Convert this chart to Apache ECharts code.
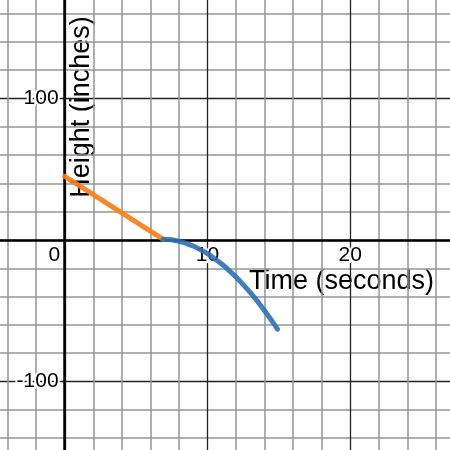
<!DOCTYPE html>
<html>
<head>
<meta charset="utf-8">
<script src="https://cdn.jsdelivr.net/npm/echarts@6/dist/echarts.min.js"></script>
<style>
  html, body { margin: 0; padding: 0; background: #fff; }
  #chart { width: 450px; height: 450px; }
</style>
</head>
<body>
<div id="chart"></div>
<script>
// values
var orangeT = [0, 6.9];
var orangeH = [45, 0.5];
var blueT = [6.9, 7.5, 8.0, 8.5, 9.0, 9.5, 10.0, 10.5, 11.0, 11.5, 12.0, 12.5, 13.0, 13.5, 14.0, 14.5, 14.9];
var blueH = [0.5, 0.2, -1, -2.3, -4.3, -6.8, -9.7, -13.2, -17, -21.4, -26.2, -31.5, -37.2, -43.3, -50, -57, -63];
var xTickLabels = ['0', '10', '20'];
var yTickLabels = ['-100', '100'];
var xTitle = 'Time (seconds)';
var yTitle = 'Height (inches)';

var FONT = 'Liberation Sans, Arial, sans-serif';

function pairs(xs, ys) {
  var out = [];
  for (var i = 0; i < xs.length; i++) {
    out.push([xs[i], ys[i]]);
  }
  return out;
}

var chart = echarts.init(document.getElementById('chart'));

var labelStyle = {
  color: '#000',
  fontSize: 21,
  fontFamily: FONT,
  textBorderColor: '#fff',
  textBorderWidth: 4
};
var majorLine = { show: true, lineStyle: { color: '#222', width: 1.3 } };
var minorLine = { show: true, lineStyle: { color: '#959595', width: 1.5 } };

var option = {
  animation: false,
  backgroundColor: '#fff',
  grid: { left: -78, right: -43, top: -43, bottom: -73, outerBoundsMode: 'none', containLabel: false },
  xAxis: {
    type: 'value',
    min: -10,
    max: 30,
    interval: 10,
    position: 'bottom',
    offset: -283,   // sits on y = 0
    axisLine: { show: true, onZero: false, lineStyle: { color: '#000', width: 2.5 } },
    axisTick: { show: false },
    axisLabel: Object.assign({
      margin: 5,
      formatter: function (v) {
        var s = String(v);
        if (xTickLabels.indexOf(s) < 0) return '';
        return s === '0' ? '{z|0}' : s;
      },
      rich: { z: { fontSize: 21, fontFamily: FONT, color: '#000', padding: [0, 21, 0, 0] } }
    }, labelStyle),
    splitLine: majorLine,
    minorTick: { show: false, splitNumber: 5 },
    minorSplitLine: minorLine
  },
  yAxis: {
    type: 'value',
    min: -200,
    max: 200,
    interval: 100,
    position: 'left',
    offset: -142.6, // sits on x = 0
    axisLine: { show: true, onZero: false, lineStyle: { color: '#000', width: 2.5 } },
    axisTick: { show: false },
    axisLabel: Object.assign({
      margin: 6,
      formatter: function (v) {
        var s = String(v);
        return yTickLabels.indexOf(s) < 0 ? '' : s;
      }
    }, labelStyle),
    splitLine: majorLine,
    minorTick: { show: false, splitNumber: 5 },
    minorSplitLine: minorLine
  },
  graphic: [
    {
      type: 'text',
      z: 0,
      left: 249,
      top: 268,
      style: { text: xTitle, fill: '#000', font: '27px ' + FONT }
    },
    {
      type: 'text',
      z: 0,
      x: 82,
      y: 107,
      rotation: Math.PI / 2,
      style: { text: yTitle, fill: '#000', font: '27px ' + FONT, align: 'center', verticalAlign: 'middle' }
    }
  ],
  series: [
    {
      type: 'line',
      data: pairs(orangeT, orangeH),
      showSymbol: false,
      lineStyle: { color: 'rgba(250,126,25,0.92)', width: 5, cap: 'round' }
    },
    {
      type: 'line',
      data: pairs(blueT, blueH),
      smooth: 0.3,
      showSymbol: false,
      lineStyle: { color: 'rgba(45,112,179,0.9)', width: 5, cap: 'round' }
    }
  ]
};

chart.setOption(option);
</script>
</body>
</html>
